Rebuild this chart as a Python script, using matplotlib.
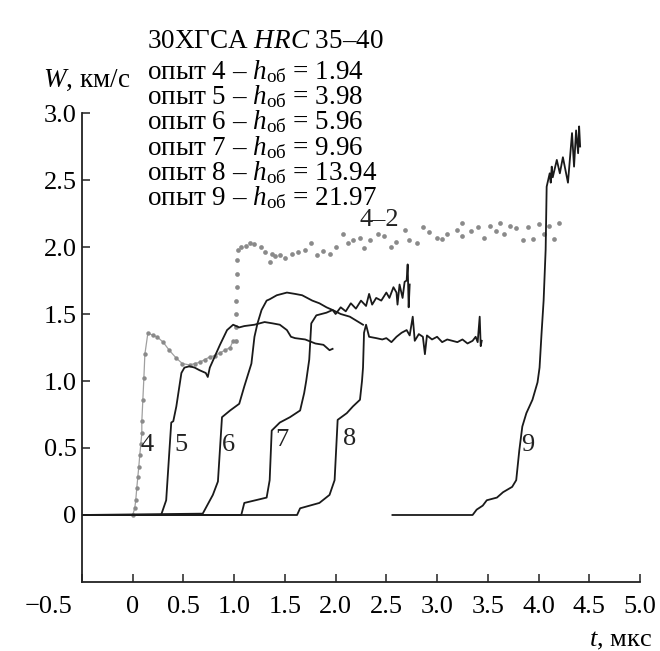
import matplotlib
matplotlib.use("Agg")
import matplotlib.pyplot as plt
import matplotlib.transforms as mtransforms
import numpy as np

plt.rcParams['font.family'] = ['Liberation Serif', 'DejaVu Serif']
plt.rcParams['mathtext.fontset'] = 'custom'
plt.rcParams['mathtext.rm'] = 'Liberation Serif'
plt.rcParams['mathtext.it'] = 'Liberation Serif:italic'

# опыт 4 (серая линия с точками)
t4 = [-0.5, -0.3, -0.1, 0.0, 0.02, 0.03, 0.04, 0.05, 0.06, 0.07, 0.08, 0.09, 0.09, 0.10, 0.11,
      0.12, 0.15, 0.2, 0.24, 0.3, 0.36, 0.43, 0.49, 0.56, 0.61, 0.66, 0.71, 0.76, 0.81, 0.86,
      0.91, 0.96, 0.99]
w4 = [0.0, 0.0, 0.0, 0.0, 0.05, 0.11, 0.2, 0.28, 0.36, 0.45, 0.53, 0.61, 0.7, 0.86, 1.02,
      1.2, 1.36, 1.34, 1.33, 1.29, 1.23, 1.17, 1.13, 1.12, 1.13, 1.14, 1.16, 1.18, 1.19, 1.21,
      1.23, 1.25, 1.30]

# опыт 4-2 (точки)
t42 = [1.02, 1.02, 1.02, 1.02, 1.03, 1.03, 1.03, 1.04, 1.07, 1.12, 1.16, 1.2, 1.26, 1.3, 1.35,
       1.37, 1.4, 1.45, 1.5, 1.57, 1.63, 1.7, 1.76, 1.82, 1.88, 1.94, 2.0, 2.07, 2.12, 2.17,
       2.24, 2.28, 2.34, 2.42, 2.48, 2.55, 2.6, 2.68, 2.72, 2.8, 2.86, 2.92, 3.0, 3.05, 3.1,
       3.2, 3.25, 3.25, 3.33, 3.4, 3.46, 3.52, 3.58, 3.62, 3.66, 3.72, 3.78, 3.85, 3.9, 3.95,
       4.0, 4.05, 4.1, 4.15, 4.2]
w42 = [1.30, 1.40, 1.50, 1.60, 1.70, 1.80, 1.90, 1.98, 2.0, 2.01, 2.03, 2.02, 2.0, 1.96, 1.89,
       1.95, 1.93, 1.94, 1.92, 1.95, 1.96, 1.98, 2.03, 1.94, 1.97, 1.95, 2.0, 2.1, 2.03, 2.05,
       2.07, 1.99, 2.05, 2.1, 2.08, 2.0, 2.04, 2.13, 2.05, 2.03, 2.15, 2.11, 2.07, 2.06, 2.1,
       2.13, 2.18, 2.08, 2.12, 2.15, 2.07, 2.16, 2.12, 2.18, 2.1, 2.16, 2.14, 2.05, 2.15, 2.06,
       2.17, 2.1, 2.16, 2.06, 2.18]

# опыт 5
t5 = [-0.5, 0.0, 0.28, 0.33, 0.36, 0.38, 0.40, 0.43, 0.48, 0.51, 0.56, 0.61, 0.66, 0.72, 0.74,
      0.76, 0.86, 0.93, 0.99, 1.05, 1.1, 1.2, 1.3, 1.38, 1.45, 1.52, 1.56, 1.6, 1.7, 1.8, 1.88,
      1.94, 1.97]
w5 = [0.0, 0.0, 0.0, 0.11, 0.46, 0.69, 0.70, 0.81, 1.06, 1.10, 1.11, 1.10, 1.08, 1.06, 1.03,
      1.10, 1.27, 1.38, 1.42, 1.40, 1.41, 1.42, 1.44, 1.43, 1.42, 1.38, 1.33, 1.32, 1.31, 1.28,
      1.27, 1.23, 1.24]

# опыт 6
t6 = [-0.5, 0.69, 0.79, 0.84, 0.88, 0.96, 1.05, 1.10, 1.17, 1.20, 1.23, 1.27, 1.32, 1.35,
      1.42, 1.52, 1.6, 1.67, 1.77, 1.84, 1.91, 1.97, 2.05, 2.14, 2.27]
w6 = [0.0, 0.01, 0.15, 0.25, 0.73, 0.78, 0.83, 0.96, 1.13, 1.33, 1.43, 1.53, 1.60, 1.61,
      1.64, 1.66, 1.65, 1.64, 1.60, 1.58, 1.55, 1.53, 1.50, 1.48, 1.42]

# опыт 7
t7 = [-0.5, 1.07, 1.10, 1.32, 1.35, 1.37, 1.45, 1.55, 1.65, 1.69, 1.71, 1.74, 1.76, 1.81, 1.91,
      1.97, 2.0, 2.05, 2.1, 2.15, 2.2, 2.25, 2.3, 2.33, 2.36, 2.4, 2.45, 2.5, 2.53, 2.57, 2.6,
      2.61, 2.63, 2.66, 2.68, 2.7, 2.71, 2.72, 2.73]
w7 = [0.0, 0.0, 0.09, 0.13, 0.26, 0.63, 0.69, 0.73, 0.78, 0.91, 1.0, 1.16, 1.43, 1.49, 1.51,
      1.53, 1.50, 1.55, 1.52, 1.58, 1.54, 1.60, 1.56, 1.65, 1.57, 1.62, 1.60, 1.66, 1.62, 1.70,
      1.66, 1.57, 1.72, 1.62, 1.74, 1.75, 1.87, 1.55, 1.72]

# опыт 8
t8 = [-0.5, 1.62, 1.65, 1.84, 1.94, 1.99, 2.02, 2.11, 2.17, 2.24, 2.26, 2.27, 2.28, 2.30, 2.33,
      2.40, 2.46, 2.5, 2.55, 2.6, 2.65, 2.7, 2.73, 2.76, 2.78, 2.82, 2.86, 2.88, 2.9, 2.95, 3.0,
      3.05, 3.1, 3.15, 3.2, 3.25, 3.3, 3.35, 3.38, 3.40, 3.42, 3.43, 3.44]
w8 = [0.0, 0.0, 0.05, 0.09, 0.15, 0.26, 0.71, 0.76, 0.81, 0.86, 1.0, 1.1, 1.36, 1.42, 1.33,
      1.32, 1.31, 1.32, 1.29, 1.33, 1.36, 1.38, 1.34, 1.48, 1.30, 1.35, 1.33, 1.20, 1.34, 1.31, 1.33,
      1.29, 1.31, 1.30, 1.29, 1.31, 1.28, 1.30, 1.33, 1.29, 1.48, 1.26, 1.30]

# опыт 9
t9 = [2.56, 3.35, 3.39, 3.45, 3.49, 3.59, 3.65, 3.74, 3.78, 3.81, 3.84, 3.88, 3.94, 3.99, 4.01,
      4.03, 4.05, 4.07, 4.08, 4.11, 4.12, 4.13, 4.14, 4.18, 4.21, 4.24, 4.29, 4.33, 4.35, 4.37,
      4.39, 4.40, 4.41]
w9 = [0.0, 0.0, 0.04, 0.07, 0.11, 0.13, 0.17, 0.21, 0.26, 0.48, 0.66, 0.76, 0.86, 0.99, 1.10,
      1.36, 1.60, 1.98, 2.45, 2.55, 2.48, 2.60, 2.52, 2.65, 2.55, 2.67, 2.48, 2.85, 2.60, 2.87,
      2.70, 2.90, 2.75]

header = "30ХГСА $HRC$ 35–40"
opyty = ["4", "5", "6", "7", "8", "9"]
h_ob = ["1.94", "3.98", "5.96", "9.96", "13.94", "21.97"]

curve_labels = ["4", "5", "6", "7", "8", "9", "4–2"]
label_t = [0.14, 0.48, 0.94, 1.47, 2.14, 3.89, 2.43]
label_w = [0.52, 0.52, 0.52, 0.56, 0.57, 0.52, 2.20]

xticks = [-0.5, 0, 0.5, 1.0, 1.5, 2.0, 2.5, 3.0, 3.5, 4.0, 4.5, 5.0]
xticklabels = ["−0.5", "0", "0.5", "1.0", "1.5", "2.0", "2.5", "3.0", "3.5", "4.0", "4.5", "5.0"]
yticks = [0, 0.5, 1.0, 1.5, 2.0, 2.5, 3.0]
yticklabels = ["0", "0.5", "1.0", "1.5", "2.0", "2.5", "3.0"]

fig = plt.figure(figsize=(6.6, 6.51), dpi=100)
ax = fig.add_axes([0.1242, 0.106, 0.8455, 0.7204])

gray = '#8a8a8a'
t4a = np.array(t4)
ax.plot(t4, w4, color='#a0a0a0', lw=0.9)
ax.plot(t4a[t4a >= 0], np.array(w4)[t4a >= 0], 'o', color=gray, ms=3.2, mew=0)
ax.plot(t42, w42, 'o', color=gray, ms=3.4, mew=0)

for t, w in [(t5, w5), (t6, w6), (t7, w7), (t8, w8), (t9, w9)]:
    ax.plot(t, w, color='#1a1a1a', lw=1.3)

for s, x, y in zip(curve_labels, label_t, label_w):
    ax.text(x, y, s, fontsize=19, ha='center', va='center', color='#222222')

ax.set_xlim(-0.5, 5.0)
ax.set_ylim(-0.5, 3.0)
ax.set_xticks(xticks)
ax.set_xticklabels(xticklabels)
ax.set_yticks(yticks)
ax.set_yticklabels(yticklabels)
ax.tick_params(direction='in', length=6, width=1.1, labelsize=19, color='#222222')
ax.tick_params(axis='x', pad=10)
ax.tick_params(axis='y', pad=4)
for side in ['top', 'right']:
    ax.spines[side].set_visible(False)
for side in ['left', 'bottom']:
    ax.spines[side].set_linewidth(1.3)
    ax.spines[side].set_color('#222222')

# подпись -0.5 сдвинута левее оси
first = ax.get_xticklabels()[0]
first.set_horizontalalignment('right')
first.set_transform(first.get_transform() + mtransforms.ScaledTranslation(-10 / 100, 0, fig.dpi_scale_trans))

W = 660.0
H = 651.0
fs = 19.5
fig.text(147 / W, 1 - 48 / H, header, fontsize=fs, va='baseline', ha='left')
for i, (n, h) in enumerate(zip(opyty, h_ob)):
    y = 79 + 25.2 * i
    fig.text(147 / W, 1 - y / H, "опыт " + n + " – $h_{\\rm об}$ = " + h,
             fontsize=fs, va='baseline', ha='left')

fig.text(43 / W, 1 - 87 / H, "$W$, км/с", fontsize=fs, va='baseline', ha='left')
fig.text(652 / W, 1 - 646 / H, "$t$, мкс", fontsize=19, va='baseline', ha='right')

fig.savefig('out.png', dpi=100, facecolor='white')
